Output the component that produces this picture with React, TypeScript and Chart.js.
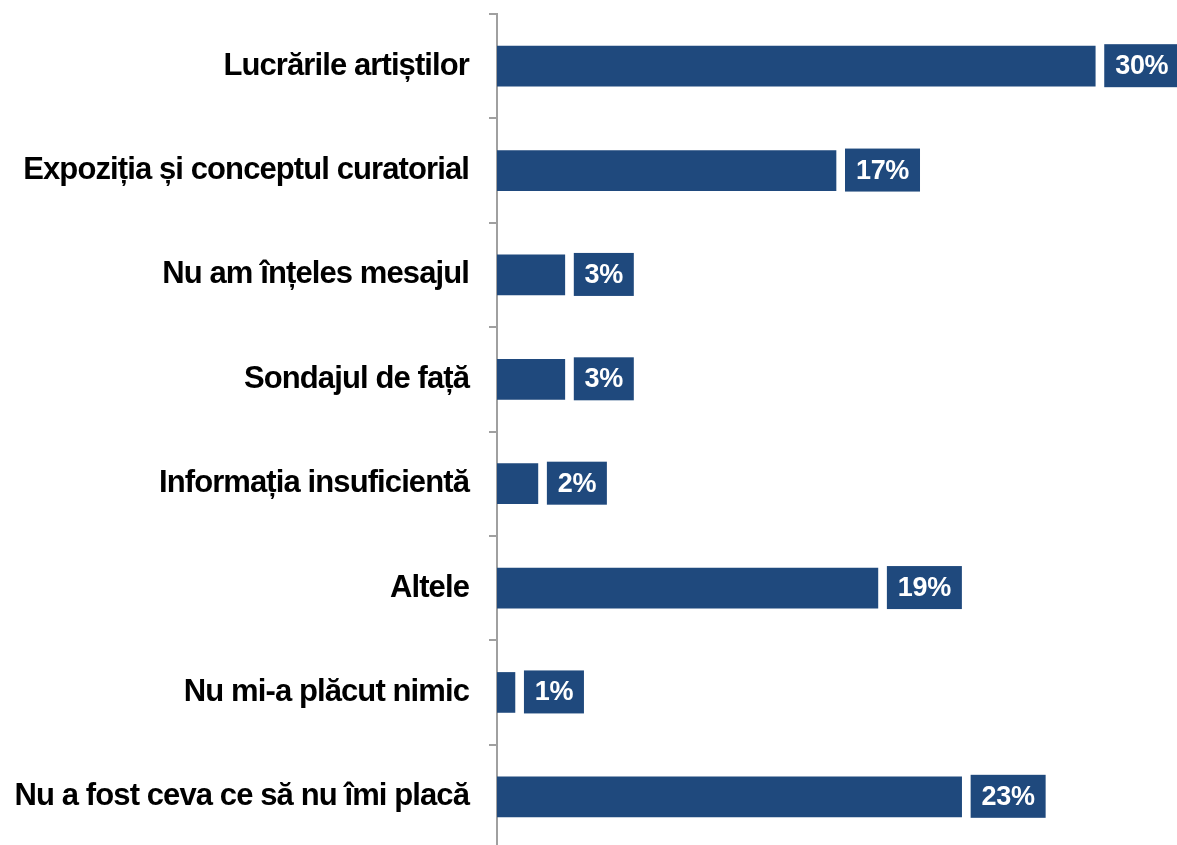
import React, { useEffect, useRef } from "react";
import { Chart, registerables } from "chart.js";

Chart.register(...registerables);

const categories = [
  "Lucrările artiștilor",
  "Expoziția și conceptul curatorial",
  "Nu am înțeles mesajul",
  "Sondajul de față",
  "Informația insuficientă",
  "Altele",
  "Nu mi-a plăcut nimic",
  "Nu a fost ceva ce să nu îmi placă",
];
const values = [30, 17, 3.4, 3.4, 2.05, 19.1, 0.9, 23.3];
const valueLabels = ["30%", "17%", "3%", "3%", "2%", "19%", "1%", "23%"];

const BAR_COLOR = "#1F497D";
const AXIS_COLOR = "#A0A0A0";
const FONT = "'Liberation Sans', Arial, sans-serif";

const condensed = {
  id: "condensed",
  beforeDraw(chart: any) {
    (chart.ctx as any).letterSpacing = "-0.9px";
  },
};

const labelBoxes = {
  id: "labelBoxes",
  afterDatasetsDraw(chart: any) {
    const ctx = chart.ctx;
    const meta = chart.getDatasetMeta(0);
    ctx.save();
    (ctx as any).letterSpacing = "-0.3px";
    ctx.font = `bold 27px ${FONT}`;
    meta.data.forEach((bar: any, i: number) => {
      const text = valueLabels[i];
      const tw = ctx.measureText(text).width;
      const w = Math.round(tw + 22);
      const h = 43;
      const left = bar.x + 9;
      const top = bar.y - 22;
      ctx.fillStyle = BAR_COLOR;
      ctx.fillRect(left, top, w, h);
      ctx.fillStyle = "#FFFFFF";
      ctx.textAlign = "center";
      ctx.textBaseline = "middle";
      ctx.fillText(text, left + w / 2, top + h / 2 + 1);
    });
    ctx.restore();
  },
};

export default function App() {
  const ref = useRef<HTMLCanvasElement>(null);
  useEffect(() => {
    document.body.style.overflow = "hidden";
    const chart = new Chart(ref.current as HTMLCanvasElement, {
      type: "bar",
      data: {
        labels: categories,
        datasets: [
          {
            data: values,
            backgroundColor: BAR_COLOR,
            borderWidth: 0,
            barThickness: 40,
          },
        ],
      },
      options: {
        indexAxis: "y",
        animation: false,
        responsive: true,
        maintainAspectRatio: false,
        layout: { padding: { top: 14, right: 0, bottom: 0, left: 0 } },
        plugins: {
          legend: { display: false },
          tooltip: { enabled: false },
        },
        scales: {
          x: {
            display: false,
            min: 0,
            max: 34.1,
          },
          y: {
            afterFit: (scale: any) => {
              scale.width = 497;
              scale.paddingTop = 0;
              scale.paddingBottom = 0;
            },
            border: { display: true, color: AXIS_COLOR, width: 2 },
            grid: {
              offset: true,
              drawOnChartArea: false,
              drawTicks: true,
              tickLength: 8,
              color: AXIS_COLOR,
              lineWidth: 2,
            },
            ticks: {
              padding: 20,
              color: "#000000",
              font: { family: FONT, size: 31, weight: "bold" },
            },
          },
        },
      },
      plugins: [condensed, labelBoxes],
    });
    return () => chart.destroy();
  }, []);
  return (
    <div style={{ position: "fixed", left: 0, top: 0, width: 1177, height: 849 }}>
      <canvas ref={ref} />
    </div>
  );
}
